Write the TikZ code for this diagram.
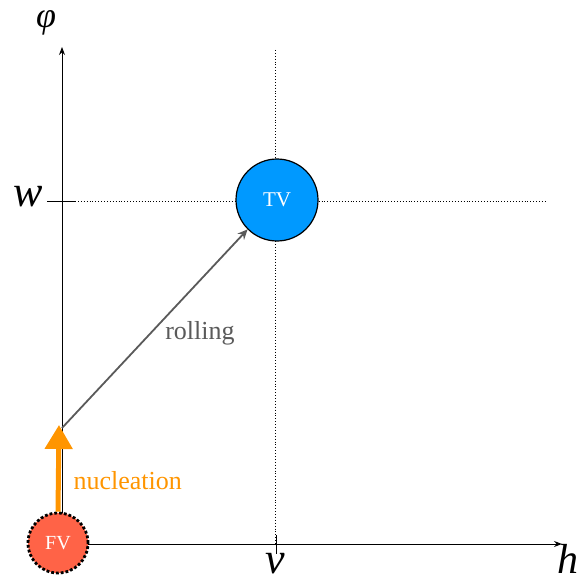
\documentclass[tikz,border=0pt]{standalone}
\usepackage{fontspec}
\setmainfont{Liberation Serif}
\usetikzlibrary{arrows.meta}
\definecolor{tvblue}{HTML}{0099FF}
\definecolor{fvred}{HTML}{FF6347}
\definecolor{orng}{HTML}{FF9500}
\definecolor{rollgray}{HTML}{5A5A5A}
\begin{document}
\begin{tikzpicture}[x=1pt,y=-1pt,
  axis/.style={line width=1pt,-{Stealth[length=8pt,width=6pt]}},
  guide/.style={line width=0.9pt,dotted},
  tick/.style={line width=1pt},
  lbl/.style={font=\itshape\fontsize{44}{46}\selectfont, inner sep=0pt}]
\useasboundingbox (0,0) rectangle (579,583);
\coordinate (O) at (62,544);
\coordinate (ytop) at (62,47);
\coordinate (xend) at (562,544);
\coordinate (vtop) at (275,50);
\coordinate (vbot) at (275,544);
\coordinate (wl) at (75,201);
\coordinate (wr) at (545,201);
% guides
\draw[guide] (vtop) -- (vbot);
\draw[guide] (wl) -- (wr);
% axes
\draw[axis] (O) -- (ytop);
\draw[axis] (O) -- (xend);
% ticks
\coordinate (wt1) at (47,201); \coordinate (wt2) at (75,201);
\draw[tick] (wt1) -- (wt2);
\coordinate (vt1) at (276,535); \coordinate (vt2) at (276,554);
\draw[tick] (vt1) -- (vt2);
% labels
\node[lbl, font=\itshape\fontsize{36}{38}\selectfont] (phi) at (46,23) {φ};
\node[lbl] (w) at (28,197) {w};
\node[lbl] (v) at (275,564) {v};
\node[lbl, font=\itshape\fontsize{42}{44}\selectfont] (h) at (568,559) {h};
% TV
\node[circle, draw=black, line width=1.2pt, fill=tvblue, minimum size=82pt, inner sep=0pt,
  text=white, font=\fontsize{21}{22}\selectfont] (TV) at (277,200) {TV};
% rolling arrow
\coordinate (rs) at (62,428);
\draw[rollgray, line width=1.8pt, -{Stealth[length=10pt,width=9pt]}] (rs) -- (TV.225);
\node[rollgray, font=\fontsize{26}{28}\selectfont] (roll) at (200,333) {rolling};
% FV
\node[circle, draw=black, line width=2.8pt, dotted, fill=fvred, minimum size=60pt, inner sep=0pt,
  text=white, font=\fontsize{20}{22}\selectfont] (FV) at (58,543) {FV};
% nucleation arrow
\coordinate (ntip) at (59,425);
\draw[orng, line width=5pt, -{Triangle[length=24pt,width=27pt]}] (FV.north) -- (ntip);
\node[orng, font=\fontsize{26}{28}\selectfont, anchor=west] (nuc) at (70,481) {nucleation};
\end{tikzpicture}
\end{document}
